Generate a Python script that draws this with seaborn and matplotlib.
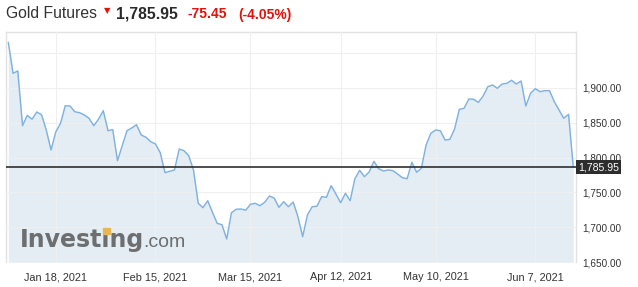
import numpy as np
import pandas as pd
import matplotlib
matplotlib.use("Agg")
import matplotlib.pyplot as plt
from matplotlib.patches import Rectangle
import seaborn as sns

# ---------------- data ----------------
prices = [
    1965, 1920.6, 1924, 1845.6, 1860.5, 1854.8, 1865.2, 1861.3, 1839.4, 1810.8,
    1836.6, 1849, 1874.2, 1873.8, 1865.6, 1864.2, 1861, 1856.2, 1845.6, 1854.8,
    1867.1, 1838.4, 1839.9, 1795.5, 1817, 1838.4, 1842.3, 1847, 1832.3, 1829,
    1822.7, 1819.4, 1807, 1778.3, 1780.3, 1782.2, 1812.2, 1809.8, 1802.6, 1782.2,
    1734.5, 1728.2, 1738.2, 1721.6, 1705.8, 1703.8, 1683.4, 1721, 1725.9, 1726.3,
    1724.5, 1733, 1734.5, 1731, 1735.9, 1744.9, 1742, 1728.7, 1736.8, 1729.6,
    1736.3, 1715.3, 1686.7, 1717.7, 1729.6, 1730.2, 1744, 1743, 1759.7, 1747.8,
    1735.3, 1748.8, 1738.2, 1769.7, 1781.7, 1772.6, 1779.3, 1794.6, 1784, 1780.7,
    1782.2, 1781.2, 1776.4, 1771.1, 1769.7, 1793.2, 1778.9, 1784.6, 1818, 1834.7,
    1839.4, 1838.4, 1825, 1826, 1840.9, 1869, 1870.5, 1883.8, 1883.4, 1879,
    1888, 1901.4, 1903.9, 1899.1, 1905.3, 1906.3, 1910.6, 1905.3, 1909.6, 1873.8,
    1892, 1898.6, 1894.3, 1895.7, 1895.7, 1880, 1868, 1856.2, 1861.9, 1785.95,
]
xtick_labels = ["Jan 18, 2021", "Feb 15, 2021", "Mar 15, 2021",
                "Apr 12, 2021", "May 10, 2021", "Jun 7, 2021"]
xtick_index = [10, 31, 51, 70, 90, 111]
ytick_values = [1650, 1700, 1750, 1800, 1850, 1900, 1950]
title = "Gold Futures"
last_price = 1785.95
change = -75.45
change_pct = -4.05

# ---------------- figure ----------------
W, H = 638, 287
sns.set_theme(style="white")
plt.rcParams["font.family"] = ["Liberation Sans", "DejaVu Sans"]

fig = plt.figure(figsize=(W / 100, H / 100), dpi=100)
fig.patch.set_facecolor("white")

left_px, right_px, top_px, bottom_px = 6, 576, 31.7, 262.3
ax = fig.add_axes([left_px / W, 1 - bottom_px / H,
                   (right_px - left_px) / W, (bottom_px - top_px) / H])
ax.set_facecolor("white")

df = pd.DataFrame({"idx": np.arange(len(prices)), "price": prices})
n = len(prices)
step = (573.3 - 8.3) / (n - 1)

ax.fill_between(df["idx"], df["price"], 1650, color="#e4edf4", lw=0, zorder=1)
sns.lineplot(data=df, x="idx", y="price", ax=ax, color="#80b2e0",
             linewidth=1.05, zorder=3)
ax.axhline(last_price, color="#2f2f2f", lw=1.2, zorder=4)

ax.set_xlim(-(8.3 - left_px) / step, n - 1 + (right_px - 573.3) / step)
ax.set_ylim(1650, 1650 + (bottom_px - top_px) / 0.6984)

ax.set_xticks(xtick_index)
ax.set_xticklabels(xtick_labels)
ax.set_yticks(ytick_values)
ax.set_yticklabels([f"{v:,.2f}" if v < 1950 else "" for v in ytick_values])
ax.yaxis.tick_right()
ax.set_xlabel("")
ax.set_ylabel("")
ax.tick_params(axis="x", length=0, pad=7, labelsize=7.8, labelcolor="#333333")
ax.tick_params(axis="y", length=0, pad=4.3, labelsize=7.2, labelcolor="#333333")

ax.set_axisbelow(False)
ax.grid(True, color="#efefef", lw=0.8)
for s in ["top", "left", "right"]:
    ax.spines[s].set_color("#e2e2e2")
    ax.spines[s].set_linewidth(1.0)
ax.spines["bottom"].set_visible(False)

# last price box
ax.annotate(f"{last_price:,.2f}", xy=(1.0, last_price),
            xycoords=ax.get_yaxis_transform(),
            xytext=(1.6, 0), textcoords="offset points",
            ha="left", va="center", color="white", fontsize=7.6,
            bbox=dict(boxstyle="square,pad=0.2", fc="#2d2d2d", ec="none"),
            zorder=6, annotation_clip=False)

# header
base = 1 - 18.5 / H
red = "#e3120b"
fig.text(6 / W, base, title, fontsize=11.3, color="#333333", va="baseline")
fig.text(103.5 / W, 1 - 13.5 / H, "▼", fontsize=6, color=red,
         va="baseline", family=["DejaVu Sans"])
fig.text(116 / W, base, f"{last_price:,.2f}", fontsize=11.3, color="#2a2a2a",
         fontweight="bold", va="baseline")
fig.text(188 / W, base, f"{change:.2f}", fontsize=10, color=red,
         fontweight="bold", va="baseline")
fig.text(238 / W, base, f"({change_pct:.2f}%)", fontsize=10, color=red,
         fontweight="bold", va="baseline")

# watermark
wm_x, wm_base = 20, 247
wm_props = dict(fontsize=17, fontweight="bold", color="#6d6e70",
                va="baseline", family=["DejaVu Sans"])
fig.text(wm_x / W, 1 - wm_base / H, "Investing", **wm_props)
fig.text(143 / W, 1 - wm_base / H, ".com", fontsize=14, color="#6d6e70",
         va="baseline")

# locate the dot of the "i" to paint it yellow
renderer = fig.canvas.get_renderer()
tmp1 = fig.text(wm_x / W, 1 - wm_base / H, "Invest", **wm_props)
tmp2 = fig.text(wm_x / W, 1 - wm_base / H, "Investi", **wm_props)
w1 = tmp1.get_window_extent(renderer).width
w2 = tmp2.get_window_extent(renderer).width
tmp1.remove()
tmp2.remove()
dot_cx = wm_x + (w1 + w2) / 2
dot_cy = wm_base - 16.2
fig.add_artist(Rectangle(((dot_cx - 3.2) / W, 1 - (dot_cy + 2.8) / H),
                         6.4 / W, 5.6 / H, transform=fig.transFigure,
                         color="#e8b84a", zorder=10))

fig.savefig("out.png", dpi=100, facecolor="white")
